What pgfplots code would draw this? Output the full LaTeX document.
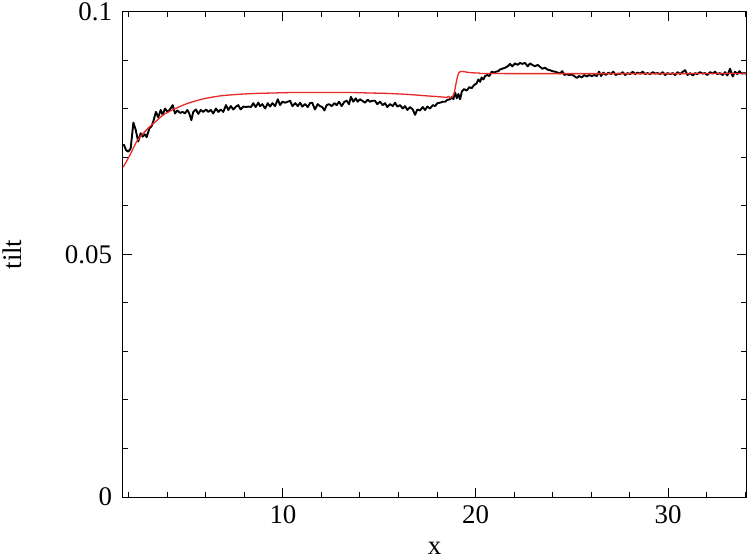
\documentclass[border=0pt]{standalone}
\usepackage{fontspec}
\setmainfont{Liberation Serif}
\usepackage{pgfplots}
\pgfplotsset{compat=1.18}
\usepackage{pgfplotstable}
\usetikzlibrary{calc}

\pgfplotstableread{
x y
1.70 0.0725
1.74 0.0726
1.85 0.0715
1.97 0.0712
2.09 0.0719
2.23 0.0772
2.35 0.0757
2.48 0.0733
2.61 0.0750
2.71 0.0743
2.83 0.0748
2.92 0.0742
3.06 0.0760
3.18 0.0765
3.26 0.0774
3.40 0.0794
3.52 0.0783
3.65 0.0798
3.75 0.0788
3.87 0.0801
3.99 0.0794
4.13 0.0799
4.27 0.0808
4.39 0.0791
4.51 0.0797
4.65 0.0792
4.79 0.0794
4.91 0.0791
5.03 0.0798
5.13 0.0791
5.24 0.0777
5.34 0.0794
5.48 0.0799
5.60 0.0790
5.73 0.0798
5.86 0.0794
6.00 0.0799
6.12 0.0794
6.25 0.0798
6.38 0.0791
6.52 0.0801
6.64 0.0794
6.77 0.0799
6.90 0.0794
7.04 0.0808
7.16 0.0798
7.29 0.0806
7.42 0.0799
7.56 0.0805
7.68 0.0808
7.80 0.0799
7.94 0.0805
8.08 0.0804
8.20 0.0805
8.34 0.0804
8.46 0.0812
8.58 0.0804
8.72 0.0813
8.81 0.0806
8.93 0.0810
9.07 0.0801
9.21 0.0812
9.33 0.0805
9.45 0.0812
9.59 0.0806
9.73 0.0820
9.85 0.0808
9.97 0.0815
10.11 0.0813
10.25 0.0815
10.37 0.0817
10.49 0.0806
10.64 0.0812
10.77 0.0806
10.89 0.0813
11.00 0.0805
11.15 0.0810
11.29 0.0804
11.40 0.0812
11.52 0.0813
11.66 0.0799
11.80 0.0810
11.92 0.0806
12.04 0.0804
12.15 0.0797
12.27 0.0808
12.39 0.0810
12.53 0.0806
12.67 0.0812
12.79 0.0808
12.91 0.0815
13.05 0.0806
13.19 0.0815
13.31 0.0817
13.43 0.0810
13.53 0.0825
13.65 0.0815
13.78 0.0822
13.88 0.0815
14.00 0.0820
14.12 0.0817
14.26 0.0813
14.40 0.0819
14.52 0.0815
14.64 0.0817
14.78 0.0817
14.90 0.0810
15.04 0.0815
15.18 0.0808
15.30 0.0812
15.42 0.0804
15.56 0.0810
15.70 0.0806
15.82 0.0813
15.94 0.0805
16.08 0.0808
16.22 0.0801
16.34 0.0806
16.46 0.0798
16.60 0.0804
16.74 0.0799
16.86 0.0788
16.98 0.0799
17.12 0.0797
17.26 0.0804
17.38 0.0798
17.50 0.0805
17.64 0.0801
17.78 0.0808
17.90 0.0806
18.02 0.0812
18.16 0.0813
18.30 0.0815
18.42 0.0815
18.54 0.0819
18.68 0.0820
18.78 0.0825
18.85 0.0820
18.94 0.0834
19.03 0.0822
19.11 0.0831
19.20 0.0820
19.29 0.0836
19.40 0.0841
19.54 0.0838
19.68 0.0845
19.80 0.0843
19.92 0.0849
20.06 0.0853
20.15 0.0861
20.24 0.0856
20.32 0.0865
20.41 0.0861
20.50 0.0868
20.62 0.0870
20.72 0.0868
20.84 0.0877
20.96 0.0875
21.07 0.0877
21.19 0.0878
21.25 0.0881
21.39 0.0883
21.53 0.0885
21.67 0.0888
21.79 0.0893
21.91 0.0888
22.05 0.0894
22.19 0.0891
22.31 0.0895
22.43 0.0893
22.57 0.0895
22.71 0.0888
22.83 0.0894
22.95 0.0891
23.09 0.0888
23.23 0.0891
23.35 0.0887
23.47 0.0883
23.61 0.0885
23.75 0.0881
23.87 0.0880
23.99 0.0878
24.13 0.0877
24.27 0.0875
24.39 0.0873
24.51 0.0878
24.62 0.0870
24.74 0.0872
24.86 0.0870
25.00 0.0871
25.13 0.0868
25.26 0.0864
25.38 0.0868
25.52 0.0865
25.65 0.0870
25.78 0.0867
25.90 0.0870
26.04 0.0868
26.17 0.0870
26.30 0.0868
26.42 0.0877
26.52 0.0868
26.64 0.0875
26.77 0.0870
26.90 0.0875
27.04 0.0872
27.16 0.0877
27.28 0.0870
27.42 0.0873
27.51 0.0872
27.65 0.0876
27.77 0.0870
27.89 0.0874
28.03 0.0872
28.17 0.0877
28.29 0.0872
28.41 0.0875
28.55 0.0873
28.69 0.0877
28.81 0.0872
28.93 0.0874
29.07 0.0872
29.21 0.0876
29.33 0.0873
29.45 0.0874
29.59 0.0872
29.73 0.0876
29.85 0.0870
29.97 0.0874
30.11 0.0872
30.25 0.0874
30.37 0.0870
30.49 0.0876
30.63 0.0872
30.77 0.0877
30.89 0.0880
31.01 0.0870
31.15 0.0874
31.29 0.0869
31.41 0.0874
31.52 0.0872
31.66 0.0876
31.80 0.0873
31.92 0.0874
32.04 0.0870
32.18 0.0876
32.32 0.0873
32.44 0.0877
32.56 0.0872
32.70 0.0874
32.84 0.0870
32.96 0.0876
33.08 0.0869
33.22 0.0883
33.36 0.0867
33.48 0.0877
33.60 0.0872
33.71 0.0878
33.83 0.0873
33.95 0.0874
34.05 0.0873
}\measured

\pgfplotstableread{
x y
1.70 0.0680
2.05 0.0705
2.40 0.0733
2.74 0.0750
3.09 0.0764
3.44 0.0776
3.78 0.0788
4.30 0.0799
5.00 0.0811
5.86 0.0821
6.73 0.0827
7.60 0.0830
8.50 0.0832
9.50 0.0833
10.50 0.0834
11.50 0.0834
12.50 0.0834
13.50 0.0834
14.50 0.0833
15.50 0.0832
16.50 0.0830
17.50 0.0827
18.20 0.0825
18.50 0.0824
18.60 0.0826
18.70 0.0823
18.80 0.0825
18.90 0.0834
19.00 0.0855
19.10 0.0872
19.20 0.0877
19.40 0.0877
19.70 0.0875
20.20 0.0874
21.00 0.0873
34.05 0.0873
}\fit

\definecolor{fitred}{RGB}{235,40,40}

\begin{document}
\begin{tikzpicture}
\begin{axis}[
    scale only axis,
    width=311.5bp,
    height=242.5bp,
    xmin=1.69, xmax=34.05,
    ymin=0, ymax=0.1,
    xtick={10,20,30},
    minor xtick={2,4,...,34},
    ytick={0,0.05,0.1},
    yticklabels={0,0.05,0.1},
    minor ytick={0.01,0.02,0.03,0.04,0.06,0.07,0.08,0.09},
    tick align=inside,
    major tick length=4.5bp,
    minor tick length=2.5bp,
    every tick/.style={black, line width=0.5bp},
    axis line style={line width=0.5bp},
    tick label style={font=\fontsize{13.5}{16}\selectfont},
    /pgf/number format/assume math mode=true,
    xticklabel style={yshift=-1bp},
    yticklabel style={xshift=-2bp},
    label style={font=\fontsize{13.5}{16}\selectfont},
    xlabel={x},
    ylabel={tilt},
    xlabel style={at={(axis description cs:0.5,-0.105)}, anchor=center},
    ylabel style={at={(axis description cs:-0.178,0.5)}, anchor=center},
]
\addplot[black, line width=0.95bp, line join=round] table[x=x, y=y] {\measured};
\addplot[fitred, line width=0.65bp, smooth, tension=0.3] table[x=x, y=y] {\fit};
\end{axis}
\pgfresetboundingbox
\useasboundingbox ($(current axis.south west)+(-61.5bp,-30bp)$) rectangle ($(current axis.north east)+(0.5bp,6bp)$);
\end{tikzpicture}
\end{document}
